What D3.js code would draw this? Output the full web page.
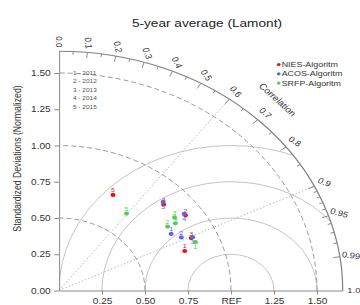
<!DOCTYPE html>
<html>
<head>
<meta charset="utf-8">
<script src="https://cdnjs.cloudflare.com/ajax/libs/d3/7.8.5/d3.min.js"></script>
<style>
body{margin:0;background:#fff;}
svg{display:block;font-family:"Liberation Sans",Arial,Helvetica,sans-serif;}
</style>
</head>
<body>
<svg id="chart" width="360" height="305"></svg>
<script>
// case legend
var yearIds = [1, 2, 3, 4, 5];
var years = ["2011", "2012", "2013", "2014", "2015"];

// models
var models = ["NIES-Algoritm", "ACOS-Algoritm", "SRFP-Algoritm"];
var colors = ["#ee1111", "#6262ee", "#55cc55"];

// normalized std dev and correlation, year 1..5
var niesStd = [0.78, 0.90, 0.85, 0.85, 0.73];
var niesCor = [0.937, 0.817, 0.905, 0.716, 0.430];
var acosStd = [0.76, 0.80, 0.86, 0.90, 0.86];
var acosCor = [0.858, 0.889, 0.904, 0.809, 0.704];
var srfpStd = [0.86, 0.77, 0.84, 0.82, 0.66];
var srfpCor = [0.922, 0.820, 0.800, 0.825, 0.595];

// axes
var sdTicks = [0.25, 0.5, 0.75, 1.0, 1.25, 1.5];
var sdTickLabels = ["0.25", "0.50", "0.75", "REF", "1.25", "1.50"];
var ySdTicks = [0, 0.25, 0.5, 0.75, 1.0, 1.25, 1.5];
var corrTicks = [0, 0.1, 0.2, 0.3, 0.4, 0.5, 0.6, 0.7, 0.8, 0.9, 0.95, 0.99, 1.0];
var corrTickLabels = ["0.0", "0.1", "0.2", "0.3", "0.4", "0.5", "0.6", "0.7", "0.8", "0.9", "0.95", "0.99", "1.0"];
var corrMinor = [0.05, 0.15, 0.25, 0.35, 0.45, 0.55, 0.65, 0.75, 0.85, 0.91, 0.92, 0.93, 0.94, 0.96, 0.97, 0.98];
var stdArcs = [0.5, 1.0, 1.5];
var rmsCircles = [0.25, 0.5, 0.75, 1.0];
var corrRays = [0.6, 0.9];
var maxR = 1.65;

var series = [
	{ std: niesStd, cor: niesCor },
	{ std: acosStd, cor: acosCor },
	{ std: srfpStd, cor: srfpCor }
];

var svg = d3.select("#chart");
// picture is horizontally stretched, so draw round and stretch the group
var stretch = 1.186;
var g = svg.append("g").attr("transform", "scale(" + stretch + ",1)");

var x0 = 49.75, y0 = 290.5, pxPerUnit = 145;
var x = d3.scaleLinear().domain([0, maxR]).range([x0, x0 + maxR * pxPerUnit]);
var y = d3.scaleLinear().domain([0, maxR]).range([y0, y0 - maxR * pxPerUnit]);
var rr = d3.scaleLinear().domain([0, maxR]).range([0, maxR * pxPerUnit]);

function pol(s, c) {
	var a = Math.acos(c);
	return [x(s * Math.cos(a)), y(s * Math.sin(a))];
}

// clip for the rms circles
g.append("clipPath").attr("id", "quad")
	.append("path")
	.attr("transform", "translate(" + x(0) + "," + y(0) + ")")
	.attr("d", d3.arc().innerRadius(0).outerRadius(rr(maxR)).startAngle(0).endAngle(Math.PI / 2)());

g.append("g").attr("clip-path", "url(#quad)")
	.selectAll("circle").data(rmsCircles).enter().append("circle")
	.attr("cx", x(1)).attr("cy", y(0))
	.attr("r", function(d) { return rr(d); })
	.attr("fill", "none").attr("stroke", "#c4c4c4").attr("stroke-width", 1)
	.attr("vector-effect", "non-scaling-stroke");

// correlation rays
g.append("g").selectAll("line").data(corrRays).enter().append("line")
	.attr("x1", x(0)).attr("y1", y(0))
	.attr("x2", function(d) { return pol(maxR, d)[0]; })
	.attr("y2", function(d) { return pol(maxR, d)[1]; })
	.attr("stroke", "#b8b8b8").attr("stroke-dasharray", "1.5,2")
	.attr("vector-effect", "non-scaling-stroke");

// dashed std arcs
g.append("g").selectAll("path").data(stdArcs).enter().append("path")
	.attr("d", function(d) {
		var p = d3.path();
		p.moveTo(x(d), y(0));
		p.arc(x(0), y(0), rr(d), 0, -Math.PI / 2, true);
		return p.toString();
	})
	.attr("fill", "none").attr("stroke", "#9a9a9a").attr("stroke-dasharray", "5,3")
	.attr("vector-effect", "non-scaling-stroke");

// outer arc
var outer = d3.path();
outer.moveTo(x(maxR), y(0));
outer.arc(x(0), y(0), rr(maxR), 0, -Math.PI / 2, true);
g.append("path").attr("d", outer.toString())
	.attr("fill", "none").attr("stroke", "#808080").attr("stroke-width", 1.2)
	.attr("vector-effect", "non-scaling-stroke");

// ticks on the outer arc
g.append("g").selectAll("line").data(corrTicks.slice(1, corrTicks.length - 1)).enter().append("line")
	.attr("x1", function(d) { return pol(maxR, d)[0]; })
	.attr("y1", function(d) { return pol(maxR, d)[1]; })
	.attr("x2", function(d) { return pol(maxR - 0.04, d)[0]; })
	.attr("y2", function(d) { return pol(maxR - 0.04, d)[1]; })
	.attr("stroke", "#8a8a8a").attr("vector-effect", "non-scaling-stroke");
g.append("g").selectAll("line").data(corrMinor).enter().append("line")
	.attr("x1", function(d) { return pol(maxR, d)[0]; })
	.attr("y1", function(d) { return pol(maxR, d)[1]; })
	.attr("x2", function(d) { return pol(maxR - 0.022, d)[0]; })
	.attr("y2", function(d) { return pol(maxR - 0.022, d)[1]; })
	.attr("stroke", "#8a8a8a").attr("vector-effect", "non-scaling-stroke");

// correlation labels
g.append("g").selectAll("text").data(corrTicks).enter().append("text")
	.attr("transform", function(d) {
		var p = pol(maxR + 0.065, d);
		return "translate(" + p[0] + "," + p[1] + ") rotate(" + (Math.acos(d) * 180 / Math.PI) + ")";
	})
	.attr("text-anchor", "middle").attr("dy", "0.35em")
	.attr("font-size", "8px").attr("fill", "#333")
	.text(function(d, i) { return corrTickLabels[i]; });

var cl = pol(1.83, Math.cos(46 * Math.PI / 180));
g.append("text")
	.attr("transform", "translate(" + cl[0] + "," + cl[1] + ") rotate(47)")
	.attr("text-anchor", "middle").attr("dy", "0.35em")
	.attr("font-size", "8.5px").attr("fill", "#333")
	.text("Correlation");

// axes
var yAxis = g.append("g").attr("transform", "translate(" + x(0) + ",0)")
	.call(d3.axisLeft(y).tickValues(ySdTicks).tickFormat(d3.format(".2f")).tickSize(4).tickSizeOuter(0));
var xAxis = g.append("g").attr("transform", "translate(0," + y(0) + ")")
	.call(d3.axisBottom(x).tickValues(sdTicks).tickFormat(function(d, i) { return sdTickLabels[i]; }).tickSize(4).tickSizeOuter(0));
[yAxis, xAxis].forEach(function(a) {
	a.selectAll("path,line").attr("stroke", "#8a8a8a").attr("vector-effect", "non-scaling-stroke");
	a.selectAll("text").attr("font-size", "8.5px").attr("fill", "#333")
		.attr("font-family", "Liberation Sans, Arial, sans-serif");
});

// points, year number above (or below when that spot is taken)
var placed = [];
function freeSpot(px, py) {
	var up = { x: px, y: py - 2.5 }, down = { x: px, y: py + 7 };
	var hit = placed.some(function(b) { return Math.abs(b.x - up.x) < 4 && Math.abs(b.y - up.y) < 5; });
	var spot = hit ? down : up;
	placed.push(spot);
	return spot;
}
series.forEach(function(s, k) {
	var pts = yearIds.map(function(id, i) {
		var p = pol(s.std[i], s.cor[i]);
		return { id: id, p: p, lab: freeSpot(p[0], p[1]) };
	});
	var sg = g.append("g");
	sg.selectAll("circle").data(pts).enter().append("circle")
		.attr("cx", function(d) { return d.p[0]; })
		.attr("cy", function(d) { return d.p[1]; })
		.attr("r", 2.1).attr("fill", colors[k]);
	sg.selectAll("text").data(pts).enter().append("text")
		.attr("x", function(d) { return d.lab.x; })
		.attr("y", function(d) { return d.lab.y; })
		.attr("text-anchor", "middle").attr("font-size", "6px").attr("fill", colors[k])
		.text(function(d) { return d.id; });
});

// case legend
g.append("g").selectAll("text").data(yearIds).enter().append("text")
	.attr("x", 61.5).attr("y", function(d, i) { return 75 + i * 8.4; })
	.attr("font-size", "5.5px").attr("fill", "#555")
	.text(function(d, i) { return d + " - " + years[i]; });

// model legend
var lg = g.append("g").selectAll("g").data(models).enter().append("g")
	.attr("transform", function(d, i) { return "translate(235," + (64.5 + i * 9.3) + ")"; });
lg.append("circle").attr("r", 1.6).attr("fill", function(d, i) { return colors[i]; });
lg.append("text").attr("x", 2.5).attr("dy", "0.35em")
	.attr("font-size", "7.5px").attr("fill", "#333")
	.text(function(d) { return d; });

// title
g.append("text").attr("x", 174.5).attr("y", 27)
	.attr("text-anchor", "middle").attr("font-size", "11.5px").attr("fill", "#222")
	.text("5-year average (Lamont)");

g.append("text")
	.attr("transform", "translate(15,158.5) rotate(-90)")
	.attr("text-anchor", "middle").attr("dy", "0.35em")
	.attr("font-size", "8.7px").attr("fill", "#333")
	.text("Standardized Deviations (Normalized)");
</script>
</body>
</html>
